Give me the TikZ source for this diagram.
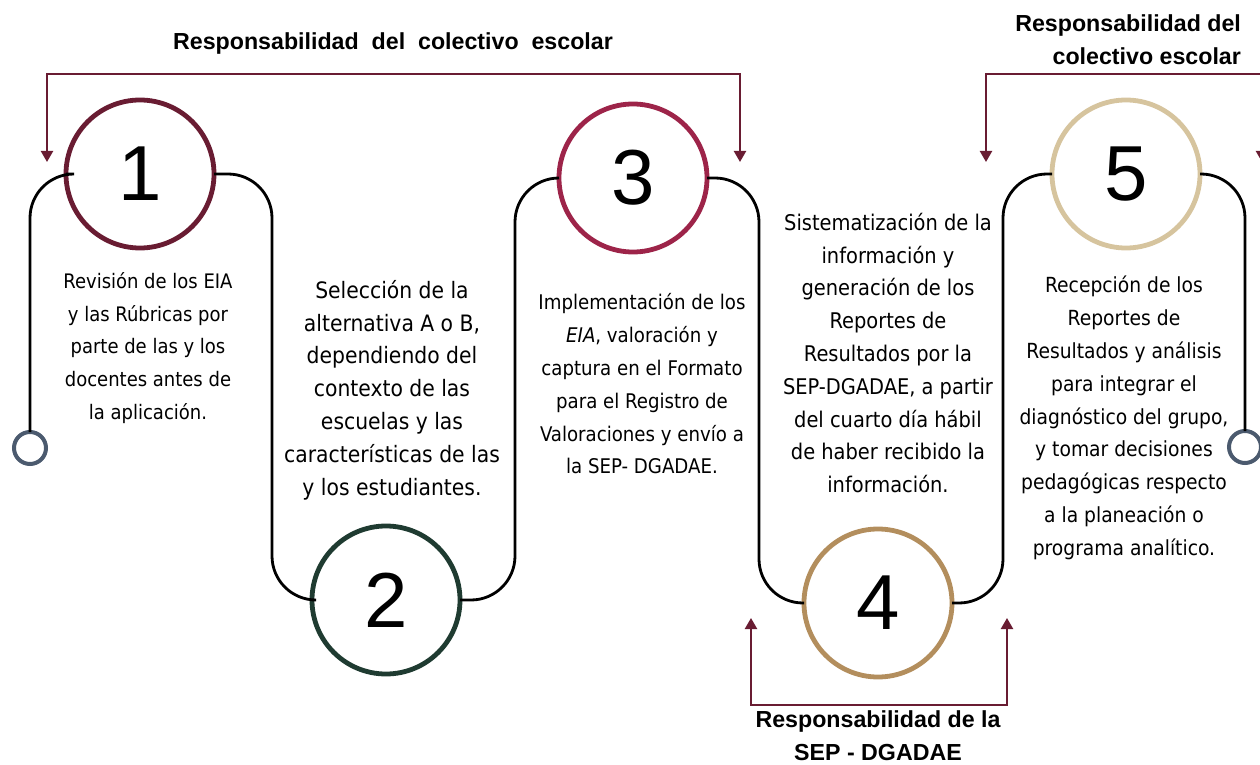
\documentclass[tikz,border=0pt]{standalone}
\usepackage{fontspec}
\setmainfont{DejaVu Sans Condensed}
\newfontfamily\headfont{Liberation Sans}
\usetikzlibrary{arrows.meta}

\definecolor{guinda}{HTML}{691C32}
\definecolor{verde}{HTML}{1F3B31}
\definecolor{carmin}{HTML}{9D2449}
\definecolor{dorado}{HTML}{B38E5D}
\definecolor{arena}{HTML}{D6C49E}
\definecolor{gris}{HTML}{4B5A6E}

\begin{document}
\begin{tikzpicture}[
                    x = 0.5pt, y = -0.5pt,
                    >={Triangle[length = 5.5pt, width = 6pt]},
                    align = center,
                    paso/.style = {draw, circle, fill = white, line width = 2.4pt, minimum size = 74pt,
                                   inner sep = 0pt, outer sep = 0pt, font = \headfont\fontsize{39}{39}\selectfont},
                    fin/.style = {draw = gris, circle, fill = white, line width = 2pt, minimum size = 16pt,
                                  inner sep = 0pt, outer sep = 0pt},
                    texto/.style = {font = \fontsize{10.8}{16.4}\selectfont},
                    resp/.style = {font = \headfont\bfseries\fontsize{11.6}{16.5}\selectfont},
                    linea/.style = {draw, line width = 1.4pt, rounded corners = 22pt},
                    flecha/.style = {draw = guinda, line width = 1.1pt, <->}]
                \useasboundingbox (0,0) rectangle (1260,765);
                % pasos
                \node[paso, draw = guinda] (n1) at (140,174)  {1};
                \node[paso, draw = verde]  (n2) at (386,600)  {2};
                \node[paso, draw = carmin] (n3) at (633,178)  {3};
                \node[paso, draw = dorado] (n4) at (878,603)  {4};
                \node[paso, draw = arena]  (n5) at (1126,174) {5};
                \node[fin] (s1) at (30,448)   {};
                \node[fin] (s2) at (1245,447) {};
                \coordinate (k1) at (272,174);
                \coordinate (k2) at (515,600);
                \coordinate (k3) at (759,178);
                \coordinate (k4) at (1003,603);
                \path[linea] (s1) |- (n1) -- (k1) |- (n2) -- (k2) |- (n3) -- (k3) |- (n4) -- (k4) |- (n5) -| (s2);
                % textos
                \node[texto, font = \fontsize{10}{16.4}\selectfont] (d1) at (148,348)
                    {Revisión de los EIA\\ y las Rúbricas por\\ parte de las y los\\ docentes antes de\\ la aplicación.};
                \node[texto, font = \fontsize{11.3}{16.4}\selectfont] (d2) at (392,390)
                    {Selección de la\\ alternativa A o B,\\ dependiendo del\\ contexto de las\\ escuelas y las\\ características de las\\ y los estudiantes.};
                \node[texto, font = \fontsize{10.1}{16.4}\selectfont] (d3) at (642,384)
                    {Implementación de los\\ \textit{EIA}, valoración y\\ captura en el Formato\\ para el Registro de\\ Valoraciones y envío a\\ la SEP- DGADAE.};
                \node[texto] (d4) at (888,353)
                    {Sistematización de la\\ información y\\ generación de los\\ Reportes de\\ Resultados por la\\ SEP-DGADAE, a partir\\ del cuarto día hábil\\ de haber recibido la\\ información.};
                \node[texto, font = \fontsize{10.4}{16.4}\selectfont] (d5) at (1124,418)
                    {Recepción de los\\ Reportes de\\ Resultados y análisis\\ para integrar el\\ diagnóstico del grupo,\\ y tomar decisiones\\ pedagógicas respecto\\ a la planeación o\\ programa analítico.};
                % responsables
                \node[resp] (r1) at (393,44) {Responsabilidad\ \ del\ \ colectivo\ \ escolar};
                \node[resp, align = right, anchor = east] (r2) at (1248,40) {Responsabilidad del\\ colectivo escolar};
                \node[resp] (r3) at (878,736) {Responsabilidad de la\\ SEP - DGADAE};
                \coordinate (a1) at (47,162);
                \coordinate (a2) at (740,162);
                \coordinate (a3) at (986,162);
                \coordinate (a4) at (1262,162);
                \coordinate (b1) at (751,618);
                \coordinate (b2) at (1007,618);
                \path[flecha] (a1) -- ++(0,-88) -| (a2);
                \path[flecha] (a3) -- ++(0,-88) -| (a4);
                \path[flecha] (b1) -- ++(0,87) -| (b2);
            \end{tikzpicture}
\end{document}
